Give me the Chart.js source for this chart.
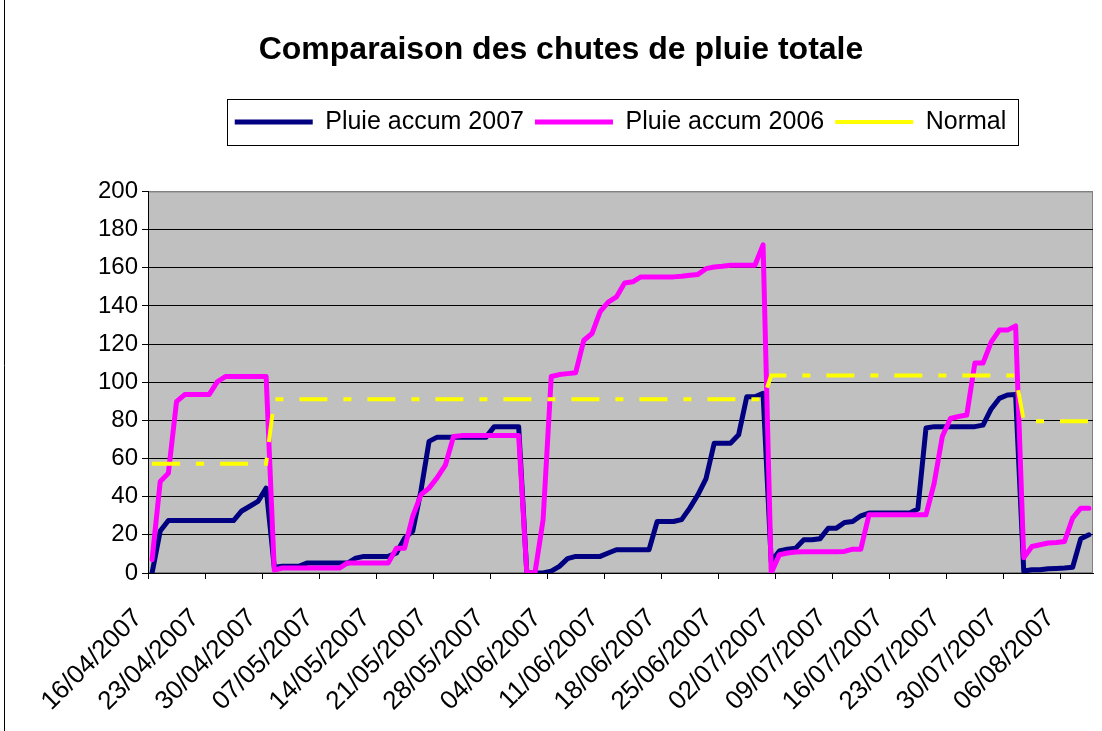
<!DOCTYPE html>
<html>
<head>
<meta charset="utf-8">
<script src="https://cdn.jsdelivr.net/npm/chart.js@4.4.1/dist/chart.umd.min.js"></script>
<style>
  html, body { margin: 0; padding: 0; background: #fff; }
  #wrap { position: relative; width: 1102px; height: 731px; }
</style>
</head>
<body>
<div id="wrap"><canvas id="rainChart" width="1102" height="731"></canvas></div>
<script>
// Tick labels shown every 7 days under the x axis
const weekLabels = ['16/04/2007', '23/04/2007', '30/04/2007', '07/05/2007', '14/05/2007',
    '21/05/2007', '28/05/2007', '04/06/2007', '11/06/2007', '18/06/2007', '25/06/2007',
    '02/07/2007', '09/07/2007', '16/07/2007', '23/07/2007', '30/07/2007', '06/08/2007'];

// one category per day, 16/04/2007 -> 09/08/2007
const dayCount = 116;
const days = [];
for (let i = 0; i < dayCount; i++) {
    const d = new Date(2007, 3, 16 + i);
    days.push(String(d.getDate()).padStart(2, '0') + '/' + String(d.getMonth() + 1).padStart(2, '0') + '/' + d.getFullYear());
}

// Pluie accum 2007 (mm)
const rain2007 = [
    0, 22, 27.5, 27.5, 27.5, 27.5, 27.5, 27.5, 27.5, 27.5,
    27.5, 32.5, 35, 37.5, 44.5, 3, 3.5, 3.5, 3.5, 5.2,
    5.2, 5.2, 5.2, 5.2, 5.2, 7.8, 8.7, 8.7, 8.7, 8.7,
    10.5, 18.3, 22, 43, 69, 71.2, 71.2, 71.2, 71.2, 71.2,
    71.2, 71.2, 76.7, 76.7, 76.7, 76.7, 0, 0, 0, 1,
    3.5, 7.5, 8.7, 8.7, 8.7, 8.7, 10.5, 12.2, 12.2, 12.2,
    12.2, 12.2, 27, 27, 27, 28, 34, 41, 49.5, 68,
    68, 68, 72.4, 92.4, 92.4, 94.2, 6, 11.5, 12.5, 13,
    17.4, 17.4, 18, 23.5, 23.5, 26.5, 27, 30, 31.4, 31.4,
    31.4, 31.4, 31.4, 31.4, 33.5, 76, 76.7, 76.7, 76.7, 76.7,
    76.7, 76.7, 77.5, 86, 91.5, 93.3, 93.5, 1, 1.7, 1.7,
    2.2, 2.4, 2.6, 3, 18, 20
];

// Pluie accum 2006 (mm)
const rain2006 = [
    7, 48, 52.3, 89.8, 93.5, 93.5, 93.5, 93.5, 100.2, 103,
    103, 103, 103, 103, 103, 1.5, 2.6, 2.6, 2.6, 2.6,
    2.6, 2.6, 2.6, 2.6, 5.3, 5.3, 5.3, 5.3, 5.3, 5.3,
    13, 13, 29.8, 41, 44.5, 50, 56.5, 71.5, 72, 72,
    72, 72, 72, 72, 72, 72, 0, 0, 28, 103,
    104, 104.5, 105, 122, 125.5, 137, 142, 144.7, 152, 152.6,
    155.2, 155.2, 155.2, 155.2, 155.2, 155.5, 156, 156.5, 159.5, 160.4,
    160.8, 161.3, 161.3, 161.3, 161.3, 172, 0, 9.6, 10.5, 11,
    11.2, 11.2, 11.2, 11.2, 11.2, 11.3, 12.5, 12.5, 30.5, 30.5,
    30.5, 30.5, 30.5, 30.5, 30.5, 30.5, 47, 71.5, 81, 82,
    82.8, 110, 110, 121, 127.3, 127.3, 129.5, 8, 13.9, 14.8,
    15.7, 16, 16.5, 28.8, 34, 34
];

// Normal (mm)
const normal = [
    57.3, 57.3, 57.3, 57.3, 57.3, 57.3, 57.3, 57.3, 57.3, 57.3,
    57.3, 57.3, 57.3, 57.3, 57.3, 91, 91, 91, 91, 91,
    91, 91, 91, 91, 91, 91, 91, 91, 91, 91,
    91, 91, 91, 91, 91, 91, 91, 91, 91, 91,
    91, 91, 91, 91, 91, 91, 91, 91, 91, 91,
    91, 91, 91, 91, 91, 91, 91, 91, 91, 91,
    91, 91, 91, 91, 91, 91, 91, 91, 91, 91,
    91, 91, 91, 91, 91, 91, 103.5, 103.5, 103.5, 103.5,
    103.5, 103.5, 103.5, 103.5, 103.5, 103.5, 103.5, 103.5, 103.5, 103.5,
    103.5, 103.5, 103.5, 103.5, 103.5, 103.5, 103.5, 103.5, 103.5, 103.5,
    103.5, 103.5, 103.5, 103.5, 103.5, 103.5, 103.5, 79.5, 79.5, 79.5,
    79.5, 79.5, 79.5, 79.5, 79.5, 79.5
];

const fontFamily = "'Liberation Sans', Arial, sans-serif";
const legendSampleWidth = 78;

// grey plot area + outer frame
const plotBackground = {
    id: 'plotBackground',
    beforeDraw(chart) {
        const { ctx, chartArea: a } = chart;
        ctx.save();
        ctx.fillStyle = '#c0c0c0';
        ctx.fillRect(a.left, a.top, a.right - a.left, a.bottom - a.top);
        ctx.strokeStyle = '#808080';
        ctx.lineWidth = 1;
        ctx.strokeRect(a.left + 0.5, a.top + 0.5, a.right - a.left - 1, a.bottom - a.top - 1);
        ctx.strokeStyle = '#000';
        ctx.beginPath();
        ctx.moveTo(4.5, 0);
        ctx.lineTo(4.5, chart.height);
        ctx.stroke();
        ctx.restore();
    }
};

// box around the legend, and dashed samples (point style lines ignore the dash)
const legendFrame = {
    id: 'legendFrame',
    afterDraw(chart) {
        const legend = chart.legend;
        const hits = legend.legendHitBoxes;
        if (!hits || !hits.length) return;
        const ctx = chart.ctx;
        ctx.save();
        legend.legendItems.forEach(function(item, i) {
            if (!item.dashColor) return;
            const h = hits[i];
            const y = Math.round(h.top + h.height / 2);
            ctx.strokeStyle = item.dashColor;
            ctx.lineWidth = item.lineWidth;
            ctx.lineCap = 'butt';
            ctx.setLineDash(item.lineDash);
            ctx.beginPath();
            ctx.moveTo(h.left, y);
            ctx.lineTo(h.left + legendSampleWidth, y);
            ctx.stroke();
        });
        ctx.setLineDash([]);
        const first = hits[0];
        const last = hits[hits.length - 1];
        const left = first.left - 8;
        const right = last.left + last.width + 11;
        const mid = first.top + first.height / 2;
        ctx.strokeStyle = '#000';
        ctx.lineWidth = 1;
        ctx.strokeRect(Math.round(left) + 0.5, Math.round(mid - 23) + 0.5, Math.round(right - left), 46);
        ctx.restore();
    }
};

const ctx = document.getElementById('rainChart').getContext('2d');
const rainChart = new Chart(ctx, {
    type: 'line',
    data: {
        labels: days,
        datasets: [{
            label: 'Pluie accum 2007',
            data: rain2007,
            borderColor: '#000080',
            backgroundColor: '#000080',
            borderWidth: 5,
            borderJoinStyle: 'round',
            borderCapStyle: 'round',
            pointRadius: 0,
            tension: 0,
            order: 3
        }, {
            label: 'Pluie accum 2006',
            data: rain2006,
            borderColor: '#ff00ff',
            backgroundColor: '#ff00ff',
            borderWidth: 5,
            borderJoinStyle: 'round',
            borderCapStyle: 'round',
            pointRadius: 0,
            tension: 0,
            order: 2
        }, {
            label: 'Normal',
            data: normal,
            borderColor: '#ffff00',
            backgroundColor: '#ffff00',
            borderWidth: 4,
            borderDash: [28, 16, 8, 16],
            borderCapStyle: 'butt',
            pointRadius: 0,
            tension: 0,
            order: 1
        }]
    },
    options: {
        responsive: false,
        animation: false,
        events: [],
        layout: {
            padding: { left: 29, right: 9, top: 0, bottom: 0 }
        },
        scales: {
            x: {
                offset: true,
                grid: {
                    offset: true,
                    drawOnChartArea: false,
                    drawTicks: true,
                    tickLength: 6,
                    color: function(c) {
                        return c.index % 7 === 0 ? '#000' : 'rgba(0,0,0,0)';
                    }
                },
                border: { color: '#000', width: 1 },
                ticks: {
                    autoSkip: false,
                    minRotation: 45,
                    maxRotation: 45,
                    labelOffset: -14,
                    padding: 24,
                    color: '#000',
                    font: { family: fontFamily, size: 26 },
                    // keep every daily tick (empty text) so the week marks sit on day boundaries
                    callback: function(value, index) {
                        return index % 7 === 0 ? weekLabels[index / 7] : '';
                    }
                },
                afterFit: function(scale) {
                    scale.height = 158;
                    // rotated labels stay inside the canvas; keep the plot wide
                    scale.paddingLeft = 0;
                    scale.paddingRight = 0;
                }
            },
            x2: {
                position: 'top',
                display: true,
                grid: { display: false },
                border: { display: false },
                ticks: { display: false },
                afterFit: function(scale) {
                    scale.height = 47;
                }
            },
            y: {
                min: 0,
                max: 200,
                ticks: {
                    stepSize: 20,
                    padding: 4,
                    color: '#000',
                    font: { family: fontFamily, size: 24 }
                },
                grid: {
                    color: function(c) {
                        return c.tick && c.tick.value === 200 ? '#808080' : '#000';
                    },
                    tickColor: '#000',
                    tickLength: 6,
                    lineWidth: 1
                },
                border: { color: '#000', width: 1 },
                afterFit: function(scale) {
                    scale.width = 119;
                }
            }
        },
        plugins: {
            title: {
                display: true,
                text: 'Comparaison des chutes de pluie totale',
                color: '#000',
                font: { family: fontFamily, size: 32, weight: 'bold' },
                padding: { top: 31, bottom: 29 }
            },
            legend: {
                position: 'top',
                fullSize: false,
                labels: {
                    usePointStyle: true,
                    pointStyle: 'line',
                    pointStyleWidth: legendSampleWidth,
                    padding: 11,
                    color: '#000',
                    font: { family: fontFamily, size: 25 },
                    generateLabels: function(chart) {
                        const items = Chart.defaults.plugins.legend.labels.generateLabels(chart);
                        items.forEach(function(item) {
                            if (item.lineDash && item.lineDash.length) {
                                item.dashColor = item.strokeStyle;
                                item.strokeStyle = 'rgba(0,0,0,0)';
                            }
                        });
                        return items;
                    },
                    sort: function(a, b) {
                        return a.datasetIndex - b.datasetIndex;
                    }
                }
            },
            tooltip: { enabled: false }
        }
    },
    plugins: [plotBackground, legendFrame]
});
</script>
</body>
</html>
